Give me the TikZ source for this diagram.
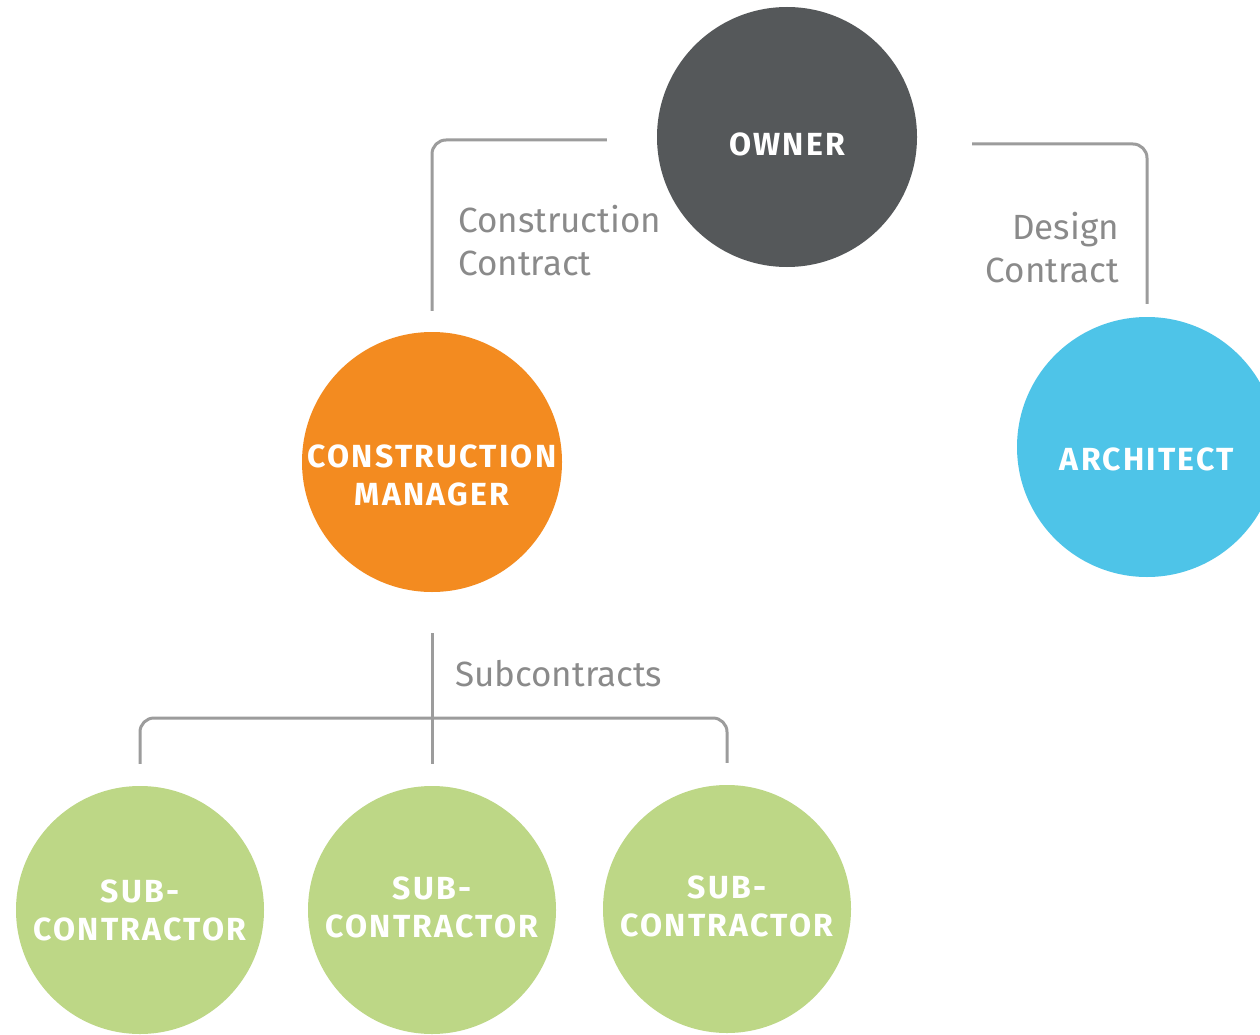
\documentclass[tikz,border=0pt]{standalone}
\usepackage{fontspec}
\setmainfont{Fira Sans}
\newfontfamily\circfont[LetterSpace=7]{Fira Sans}
\definecolor{ownergray}{HTML}{55585A}
\definecolor{cmorange}{HTML}{F38B20}
\definecolor{archblue}{HTML}{4EC4E8}
\definecolor{subgreen}{HTML}{BDD786}
\definecolor{linegray}{HTML}{9C9C9C}
\definecolor{textgray}{HTML}{8A8A8A}
\begin{document}
\begin{tikzpicture}[x=1pt,y=-1pt,
  circ/.style={circle, minimum size=260pt, inner sep=0pt},
  subcirc/.style={circle, minimum size=248pt, inner sep=0pt, fill=subgreen},
  ctext/.style={text=white, font=\circfont\fontsize{32}{38}\selectfont\bfseries, align=center, inner sep=0pt},
  conn/.style={draw=linegray, line width=3pt, rounded corners=14pt},
  lbl/.style={text=textgray, font=\fontsize{35}{43}\selectfont, inner sep=0pt}
]
\clip (0,0) rectangle (1260,1035);
\fill[white] (0,0) rectangle (1260,1035);

\node[circ, fill=ownergray] (owner) at (787,137) {};
\node[circ, fill=cmorange] (cm) at (432,462) {};
\node[circ, fill=archblue] (arch) at (1147,447) {};
\node[subcirc] (s1) at (140,910) {};
\node[subcirc] (s2) at (432,910) {};
\node[subcirc] (s3) at (727,909) {};

\node[ctext] (ownert) at ([yshift=-7pt]owner.center) {OWNER};
\node[ctext] (cmt) at ([yshift=-13pt]cm.center) {CONSTRUCTION\\MANAGER};
\node[ctext] (archt) at ([yshift=-12pt]arch.center) {ARCHITECT};
\node[ctext] (s1t) at ([yshift=0pt]s1.center) {SUB-\\CONTRACTOR};
\node[ctext] (s2t) at ([yshift=3pt]s2.center) {SUB-\\CONTRACTOR};
\node[ctext] (s3t) at ([yshift=3pt]s3.center) {SUB-\\CONTRACTOR};

\draw[conn] ([xshift=-50pt,yshift=-3pt]owner.west) -| ([yshift=21pt]cm.north);
\draw[conn] ([xshift=55pt,yshift=-7pt]owner.east) -| ([yshift=13pt]arch.north);

\coordinate (jn) at (432,718);
\draw[conn] ([yshift=-41pt]cm.south) -- ([yshift=22pt]s2.north);
\draw[conn] ([yshift=22pt]s1.north) |- (jn) -| ([yshift=22pt]s3.north);

\node[lbl, anchor=west, align=left] (cc) at (458,241) {Construction\\Contract};
\node[lbl, anchor=east, align=right] (dc) at (1119,248) {Design\\Contract};
\node[lbl, anchor=west] (sc) at (455,674) {Subcontracts};
\end{tikzpicture}
\end{document}
